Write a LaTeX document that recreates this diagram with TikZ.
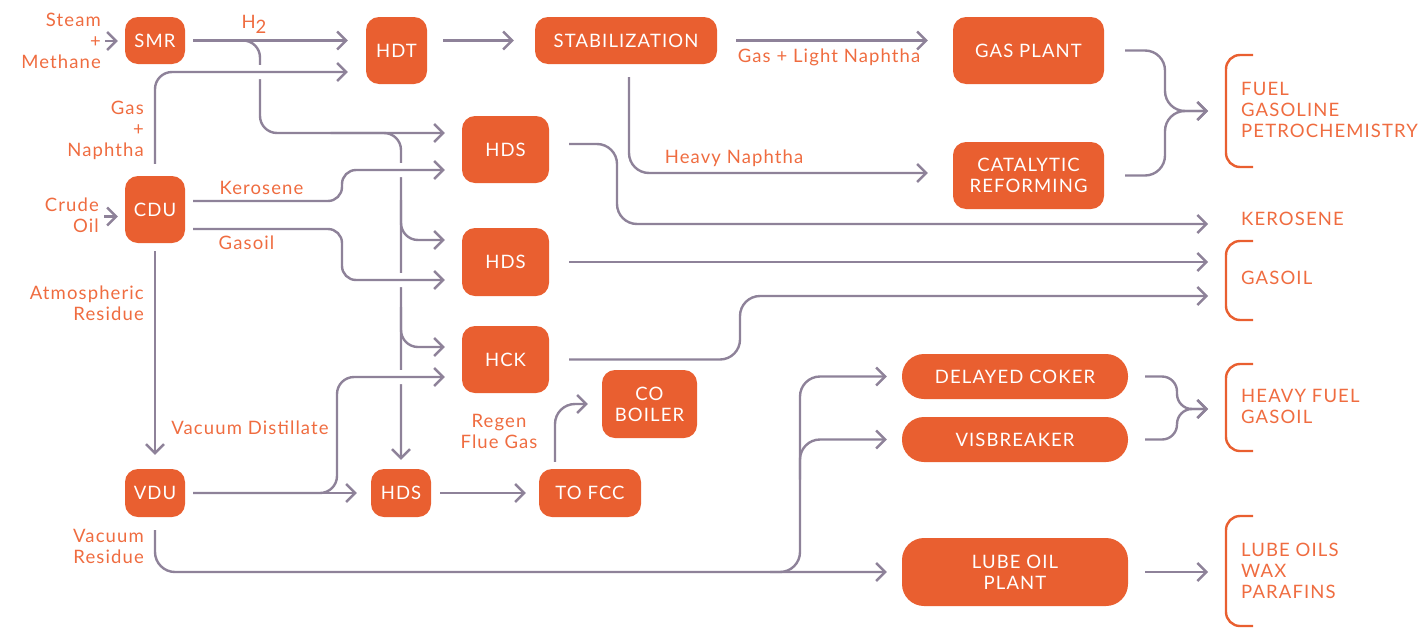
\documentclass[tikz,border=0pt]{standalone}
\usepackage{fontspec}
\setmainfont{Lato}[LetterSpace=6]
\usetikzlibrary{arrows.meta,calc,backgrounds}
\definecolor{boxc}{HTML}{E95F30}
\definecolor{lblc}{HTML}{EF6C40}
\definecolor{linec}{HTML}{8E8299}
\begin{document}
\begin{tikzpicture}[x=1pt,y=-1pt, font=\fontsize{18.5}{21}\selectfont,
 box/.style={rectangle, rounded corners=13pt, fill=boxc, text=white, inner sep=0pt, align=center},
 pill/.style={box, rounded corners=22pt},
 lbl/.style={text=lblc, inner sep=0pt},
 flow/.style={draw=linec, line width=2.4pt, rounded corners=17pt, -{Straight Barb[length=9pt,width=18pt]}},
 bridge/.style={preaction={draw=white, line width=14pt, arrows=-}},
 brk/.style={draw=boxc, line width=2.4pt, rounded corners=14pt}]
\useasboundingbox (0,0) rectangle (1423,627);
% boxes
\node[box, minimum width=60pt, minimum height=47pt] (smr) at (155,40.5) {SMR};
\node[box, minimum width=61pt, minimum height=67pt] (hdt) at (396.5,50.5) {HDT};
\node[box, minimum width=60pt, minimum height=67pt] (cdu) at (155,209.5) {CDU};
\node[box, minimum width=60pt, minimum height=48pt] (vdu) at (155,493) {VDU};
\node[box, minimum width=182pt, minimum height=47pt] (stab) at (626,40.5) {STABILIZATION};
\node[box, minimum width=87pt, minimum height=67pt] (hdsa) at (505.5,149.5) {HDS};
\node[box, minimum width=87pt, minimum height=68pt] (hdsb) at (505.5,262) {HDS};
\node[box, minimum width=87pt, minimum height=67pt] (hck) at (505.5,359.5) {HCK};
\node[box, minimum width=60pt, minimum height=48pt] (hdsc) at (401,493) {HDS};
\node[box, minimum width=102pt, minimum height=48pt] (fcc) at (590,493) {TO FCC};
\node[box, minimum width=95pt, minimum height=68pt] (cob) at (649.5,404) {CO\\BOILER};
\node[box, minimum width=151pt, minimum height=67pt] (gasp) at (1028.5,50.5) {GAS PLANT};
\node[box, minimum width=151pt, minimum height=67pt] (catr) at (1028.5,175.5) {CATALYTIC\\REFORMING};
\node[pill, minimum width=226pt, minimum height=45pt] (coker) at (1015,376.5) {DELAYED COKER};
\node[pill, minimum width=226pt, minimum height=45pt] (visb) at (1015,439.5) {VISBREAKER};
\node[box, rounded corners=22pt, minimum width=226pt, minimum height=68pt] (lube) at (1015,572) {LUBE OIL\\PLANT};
% labels
\node[lbl, anchor=east, align=right] (steaml) at (101,41) {Steam\\+\\Methane};
\node[lbl, anchor=east, align=right] (crudel) at (99,215) {Crude\\Oil};
\node[lbl] (h2l) at (254,24) {H\raisebox{-5pt}{2}};
\node[lbl, anchor=east, align=right] (gnl) at (144,130) {Gas\\+\\Naphtha};
\node[lbl] (kerl) at (261.5,188) {Kerosene};
\node[lbl] (gasl) at (246.5,243) {Gasoil};
\node[lbl, anchor=east, align=right] (atml) at (144,303) {Atmospheric\\Residue};
\node[lbl] (vdl) at (250,428) {Vacuum Distillate};
\node[lbl, anchor=east, align=right] (vrl) at (144,546) {Vacuum\\Residue};
\node[lbl] (gll) at (829,57) {Gas + Light Naphtha};
\node[lbl] (hnl) at (734,158) {Heavy Naphtha};
\node[lbl, align=center] (rfl) at (499,431) {Regen\\Flue Gas};
\node[lbl, anchor=west, align=left] (outf) at (1241,110) {FUEL\\GASOLINE\\PETROCHEMISTRY};
\node[lbl, anchor=west] (outk) at (1241,219) {KEROSENE};
\node[lbl, anchor=west] (outg) at (1241,278) {GASOIL};
\node[lbl, anchor=west, align=left] (outh) at (1241,406) {HEAVY FUEL\\GASOIL};
\node[lbl, anchor=west, align=left] (outl) at (1241,571) {LUBE OILS\\WAX\\PARAFINS};
% helper coordinates
\coordinate (busA) at (260,0);
\coordinate (busK) at (342,0);
\coordinate (busD) at (337,0);
\coordinate (busV) at (800,0);
\coordinate (busH) at (740,0);
\coordinate (busE) at (617,0);
\coordinate (busF) at (555,0);
\coordinate (mergeF) at (1165,0);
\coordinate (mergeH) at (1177,0);
\coordinate (outF) at (1208,111);
\coordinate (outK) at (1208,224);
\coordinate (outG1) at (1208,262);
\coordinate (outG2) at (1208,296);
\coordinate (outH) at (1208,409);
\coordinate (outL) at (1208,572);
\coordinate (hdtB) at ($(hdt.west)+(0,21.5)$);
\coordinate (hdsaA) at ($(hdsa.west)+(0,-16.5)$);
\coordinate (hdsaB) at ($(hdsa.west)+(0,20.5)$);
\coordinate (hdsbA) at ($(hdsb.west)+(0,-22)$);
\coordinate (hdsbB) at ($(hdsb.west)+(0,18)$);
\coordinate (hckA) at ($(hck.west)+(0,-12.5)$);
\coordinate (hckB) at ($(hck.west)+(0,17.5)$);
\coordinate (cduA) at ($(cdu.east)+(0,-8.5)$);
\coordinate (cduB) at ($(cdu.east)+(0,19.5)$);
\coordinate (cduIn) at ($(cdu.west)+(0,7)$);
\coordinate (stabS) at ($(stab.south)+(3,0)$);
\coordinate (catrIn) at ($(catr.west)+(0,-2.5)$);
\coordinate (hdsaC) at ($(hdsa.east)+(0,-5.5)$);
\begin{scope}[on background layer]
% hydrogen buses
\draw[flow, shorten <=8pt, shorten >=17pt] (smr.east) -- (smr.east -| busA) -- (busA |- hdsaA) -- (hdsaA);
\draw[flow, shorten >=9pt] ($(busA |- hdsaA)!0.5!(hdsc.north |- hdsaA)$) -- (hdsc.north |- hdsaA) -- (hdsc.north);
\draw[flow, shorten >=17pt] ($(hdsc.north |- hdsbA)+(0,-40)$) -- (hdsc.north |- hdsbA) -- (hdsbA);
\draw[flow, shorten >=17pt] ($(hdsc.north |- hckA)+(0,-40)$) -- (hdsc.north |- hckA) -- (hckA);
% crossing lines
\draw[flow, bridge, shorten <=12pt, shorten >=18pt] (cdu.north) -- (cdu.north |- hdtB) -- (hdtB);
\draw[flow, bridge, rounded corners=14pt, shorten <=8pt, shorten >=17pt] (cduA) -- (busK |- cduA) -- (busK |- hdsaB) -- (hdsaB);
\draw[flow, bridge, rounded corners=14pt, shorten <=8pt, shorten >=17pt] (cduB) -- (busK |- cduB) -- (busK |- hdsbB) -- (hdsbB);
\draw[flow, bridge, shorten <=8pt, shorten >=17pt] (vdu.east) -- (busD |- vdu.east) -- (busD |- hckB) -- (hckB);
% other flows
\draw[flow, shorten <=8pt, shorten >=14pt] (vdu.east) -- (hdsc.west);
\draw[flow, shorten <=4pt, shorten >=7pt] (steaml.east) -- (steaml.east -| smr.west);
\draw[flow, shorten <=5pt, shorten >=7pt] (crudel.east |- cduIn) -- (cduIn);
\draw[flow, shorten <=8pt, shorten >=18pt] (smr.east) -- (smr.east -| hdt.west);
\draw[flow, shorten <=8pt, shorten >=14pt] (cdu.south) -- (vdu.north);
\draw[flow, shorten <=16pt, shorten >=21pt] (stab.west -| hdt.east) -- (stab.west);
\draw[flow, shorten <=19pt, shorten >=25pt] (stab.east) -- (stab.east -| gasp.west);
\draw[flow, rounded corners=20pt, shorten <=13pt, shorten >=25pt] (stabS) -- (stabS |- catrIn) -- (catrIn);
\draw[flow, rounded corners=20pt, shorten <=20pt] (hdsaC) -- (busE |- hdsaC) -- (busE |- outK) -- (outK);
\draw[flow, shorten <=20pt] (hdsb.east) -- (outG1);
\draw[flow, rounded corners=20pt, shorten <=20pt] (hck.east) -- (busH |- hck.east) -- (busH |- outG2) -- (outG2);
\draw[flow, shorten <=9pt, shorten >=13pt] (hdsc.east) -- (fcc.west);
\draw[flow, rounded corners=20pt, shorten <=7pt, shorten >=14pt] (busF |- fcc.north) -- (busF |- cob.west) -- (cob.west);
\draw[flow, rounded corners=20pt, shorten <=13pt, shorten >=15pt] (vdu.south) -- (vdu.south |- lube.west) -- (lube.west);
\draw[flow, rounded corners=20pt, shorten >=15pt] ($(busV |- lube.west)+(-30,0)$) -- (busV |- lube.west) -- (busV |- coker.west) -- (coker.west);
\draw[flow, rounded corners=20pt, shorten >=15pt] ($(busV |- visb.west)+(0,40)$) -- (busV |- visb.west) -- (visb.west);
\draw[flow, rounded corners=20pt, shorten <=21pt] (gasp.east) -- (mergeF |- gasp.east) -- (mergeF |- outF) -- (outF);
\draw[flow, rounded corners=20pt, shorten <=21pt] (catr.east) -- (mergeF |- catr.east) -- (mergeF |- outF) -- (outF);
\draw[flow, rounded corners=15pt, shorten <=17pt] (coker.east) -- (mergeH |- coker.east) -- (mergeH |- outH) -- (outH);
\draw[flow, rounded corners=15pt, shorten <=17pt] (visb.east) -- (mergeH |- visb.east) -- (mergeH |- outH) -- (outH);
\draw[flow, shorten <=17pt] (lube.east) -- (outL);
\end{scope}
% brackets
\draw[brk] (1253,55) -- (1226,55) -- (1226,167) -- (1253,167);
\draw[brk] (1253,241) -- (1226,241) -- (1226,320) -- (1253,320);
\draw[brk] (1253,364) -- (1226,364) -- (1226,451) -- (1253,451);
\draw[brk] (1253,516) -- (1226,516) -- (1226,626) -- (1253,626);
\end{tikzpicture}
\end{document}
